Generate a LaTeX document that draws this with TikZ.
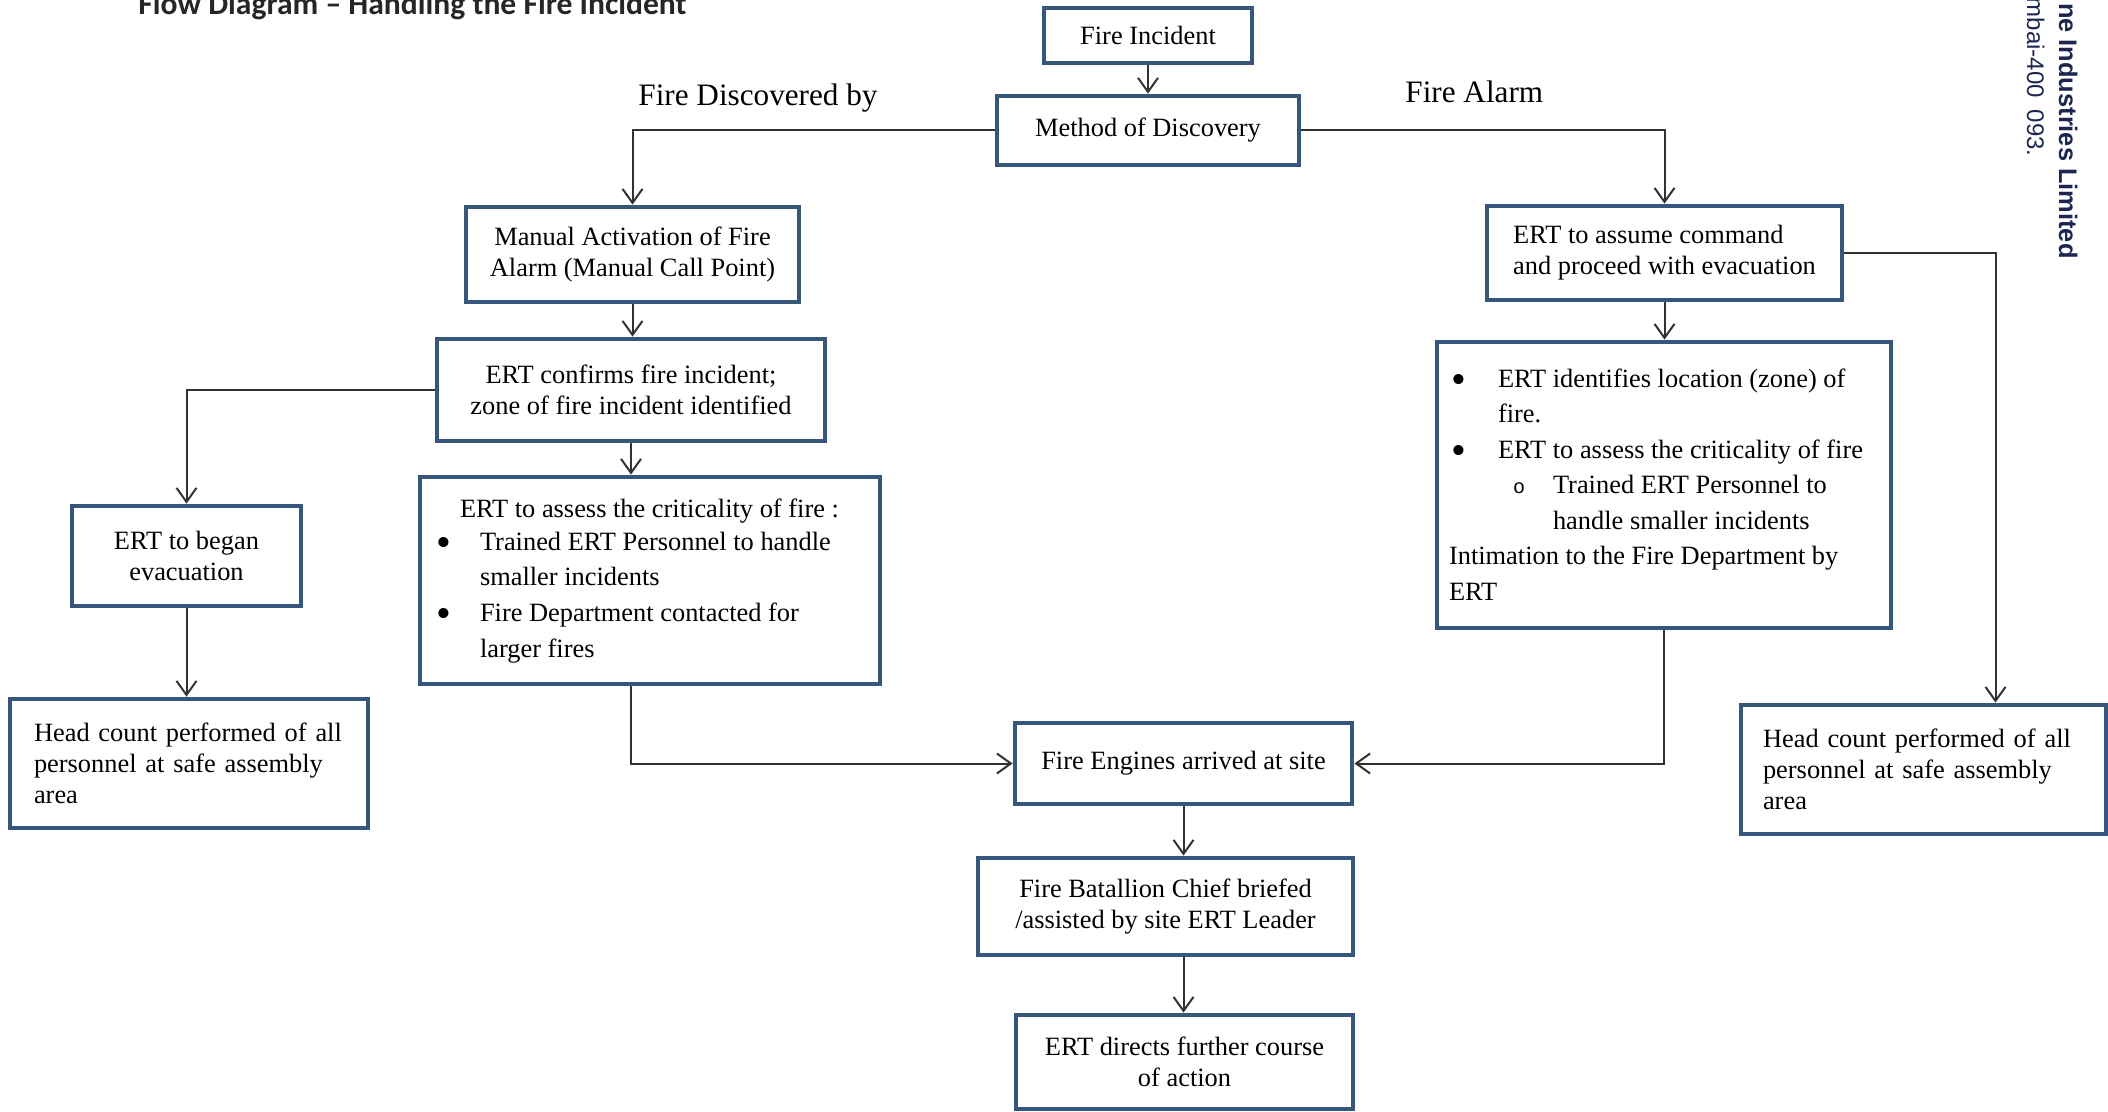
\documentclass[tikz,border=0pt]{standalone}
\usepackage{fontspec}
\setmainfont{Liberation Serif}
\newfontfamily\titlefont{Carlito}
\newfontfamily\logofont{Liberation Sans}
\newfontfamily\circfont{Liberation Mono}
\usetikzlibrary{arrows.meta}
\definecolor{boxblue}{RGB}{55,86,124}
\definecolor{navy}{RGB}{28,38,80}
\definecolor{wire}{RGB}{50,50,50}
\newcommand{\dotmark}{\raisebox{-3pt}{\scalebox{1.6}{\textbullet}}}

\begin{document}
\begin{tikzpicture}[
    x=0.5pt, y=-0.5pt,
    box/.style={draw=boxblue, line width=2.4pt, fill=white, inner sep=0pt,
      font=\fontsize{13.2}{15.5}\selectfont},
    branch/.style={font=\fontsize{15.6}{18}\selectfont, inner sep=0pt, anchor=base west},
    logo/.style={rotate=-90, anchor=base east, inner sep=0pt, text=navy},
    flow/.style={draw=wire, line width=1pt, -{Straight Barb[length=7pt,width=10pt]}}
  ]
  \clip (0,0) rectangle (2108,1112);

  \node[font=\titlefont\bfseries\fontsize{15.8}{18}\selectfont, anchor=base west,
    inner sep=0pt, text=black!85] (title) at (138,15) {Flow Diagram – Handling the Fire Incident};
  \node[logo, font=\logofont\bfseries\fontsize{12.7}{14}\selectfont] (corp) at (2059,259) {ne Industries Limited};
  \node[logo, font=\logofont\fontsize{12}{14}\selectfont] (addr) at (2027,157) {mbai-400\enspace 093.};

  \node[box, align=center, minimum width=104pt, minimum height=27.5pt] (inc) at (1148,35.5) {Fire Incident};
  \node[box, align=center, minimum width=151pt, minimum height=34.5pt] (method) at (1148,130.5) {Method of Discovery};
  \node[branch] (byhand) at (638,106) {Fire Discovered by};
  \node[branch] (byalarm) at (1405,103) {Fire Alarm};

  % manual call point branch
  \node[box, align=center, minimum width=166.5pt, minimum height=47.5pt] (manual) at (632.5,254.5)
    {Manual Activation of Fire\\Alarm (Manual Call Point)};
  \node[box, align=center, minimum width=194pt, minimum height=51pt] (confirm) at (631,390)
    {ERT confirms fire incident;\\zone of fire incident identified};
  \node[box] (assessL) at (650,580.5) {\begin{minipage}[c][103.5pt][t]{230pt}
      \vspace*{9.6pt}
      \hspace*{20pt}\strut ERT to assess the criticality of fire :\\[1pt]
      \hspace*{8pt}\makebox[22pt][l]{\dotmark}Trained ERT Personnel to handle\\[2pt]
      \hspace*{30pt}smaller incidents\\[2.5pt]
      \hspace*{8pt}\makebox[22pt][l]{\dotmark}Fire Department contacted for\\[2.5pt]
      \hspace*{30pt}larger fires
    \end{minipage}};
  \node[box, align=center, minimum width=114.5pt, minimum height=50pt] (began) at (186.5,556)
    {ERT to began\\evacuation};
  \node[box, align=left, text width=155pt, inner xsep=12pt, minimum height=64.5pt] (headL) at (189,763.5)
    {Head count performed of all\\personnel at safe assembly\\area};

  % fire alarm branch
  \node[box, align=left, minimum width=177.5pt, minimum height=47pt] (assume) at (1664.5,253)
    {ERT to assume command\\and proceed with evacuation};
  \node[box] (assessR) at (1664,485) {\begin{minipage}[c][143pt][t]{227pt}
      \fontsize{13.2}{17.75}\selectfont
      \vspace*{10.1pt}
      \hspace*{7pt}\makebox[23.5pt][l]{\dotmark}\strut ERT identifies location (zone) of\\
      \hspace*{30.5pt}fire.\\
      \hspace*{7pt}\makebox[23.5pt][l]{\dotmark}ERT to assess the criticality of fire\\
      \hspace*{38pt}\makebox[20pt][l]{\circfont\fontsize{10}{12}\selectfont o}Trained ERT Personnel to\\
      \hspace*{58pt}handle smaller incidents\\
      \hspace*{6pt}Intimation to the Fire Department by\\
      \hspace*{6pt}ERT
    \end{minipage}};
  \node[box, align=left, text width=160.5pt, inner xsep=11pt, minimum height=64.5pt] (headR) at (1923.5,769.5)
    {Head count performed of all\\personnel at safe assembly\\area};

  % fire brigade
  \node[box, align=center, minimum width=168.5pt, minimum height=40.5pt] (engines) at (1183.5,763.5)
    {Fire Engines arrived at site};
  \node[box, align=center, minimum width=187.5pt, minimum height=48.5pt] (chief) at (1165.5,906.5)
    {Fire Batallion Chief briefed\\/assisted by site ERT Leader};
  \node[box, align=center, minimum width=168.5pt, minimum height=47pt] (directs) at (1184.5,1062)
    {ERT directs further course\\of action};

  \draw[flow] (inc) -- (method);
  \draw[flow] (method.west) -| (manual.north);
  \draw[flow] (method.east) -| (assume.north);
  \draw[flow] (manual.south) -- (manual.south |- confirm.north);
  \draw[flow] (confirm.south) -- (confirm.south |- assessL.north);
  \draw[flow] (confirm.west) -| (began.north);
  \draw[flow] (began.south) -- (began.south |- headL.north);
  \draw[flow] (assume.south) -- (assume.south |- assessR.north);
  \draw[flow] (assume.east) -| ([xshift=36pt]headR.north);
  \draw[flow] (confirm.south |- assessL.south) |- (engines.west);
  \draw[flow] (assessR.south) |- (engines.east);
  \draw[flow] (engines.south) -- (engines.south |- chief.north);
  \draw[flow] (engines.south |- chief.south) -- (engines.south |- directs.north);
\end{tikzpicture}
\end{document}
